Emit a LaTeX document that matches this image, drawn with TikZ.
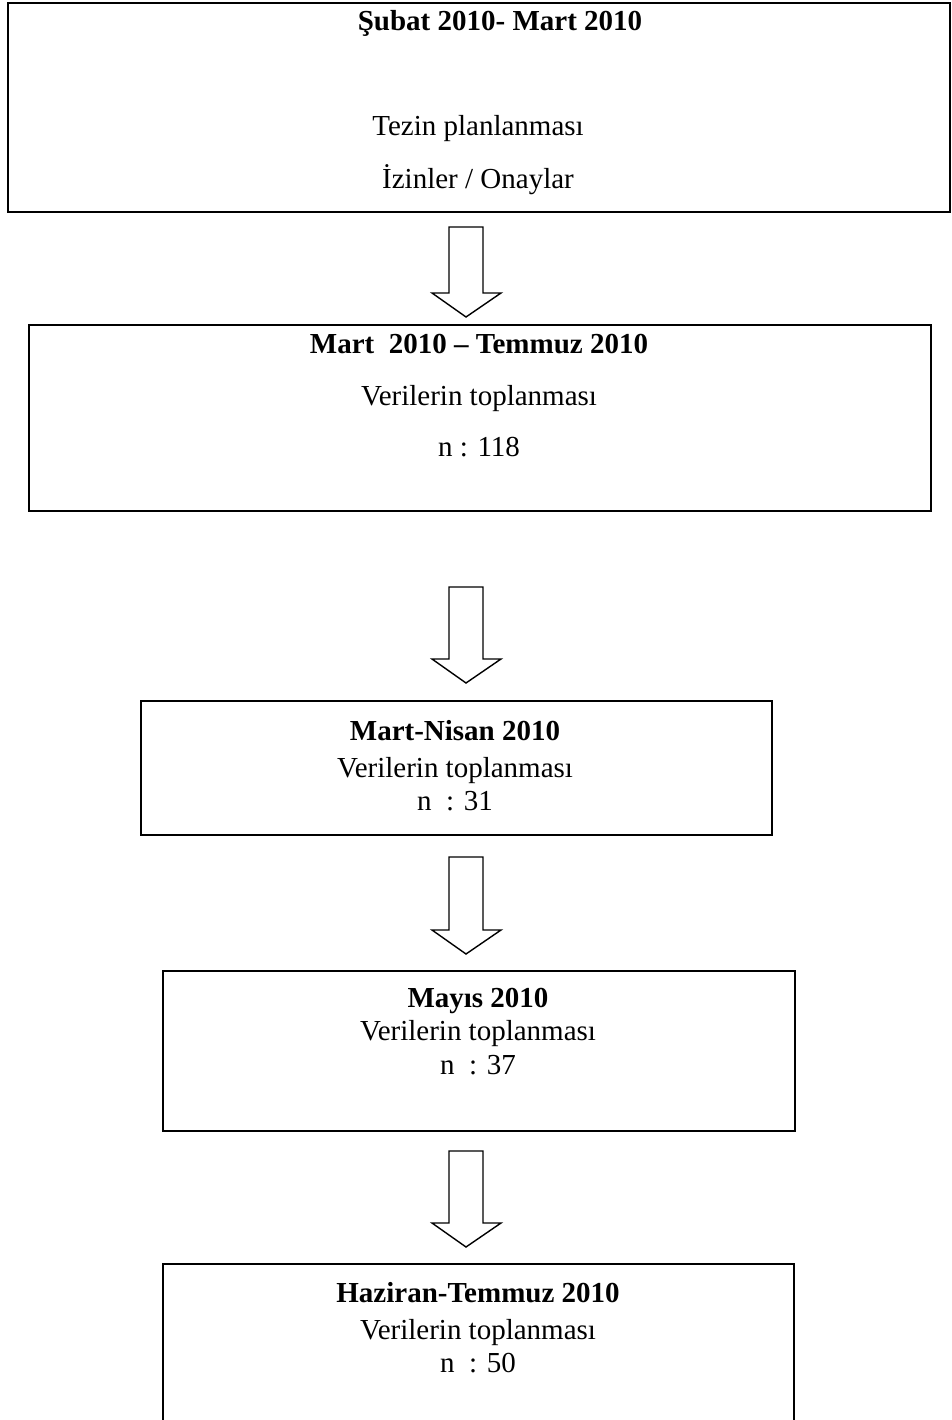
\documentclass[tikz,border=0pt]{standalone}
\usepackage{fontspec}
\setmainfont{Liberation Serif}
\begin{document}
\begin{tikzpicture}[x=1pt,y=-1pt,
  box/.style={draw, line width=2pt, rectangle, inner sep=0pt, anchor=north west},
  txt/.style={anchor=base, inner sep=0pt, font=\fontsize{29}{34}\selectfont},
  btxt/.style={anchor=base, inner sep=0pt, font=\fontsize{29}{34}\selectfont\bfseries},
  blockarrow/.style={draw, line width=1.4pt, line join=miter}]
\useasboundingbox (0,0) rectangle (951,1420);
% boxes
\node[box, minimum width=942pt, minimum height=209pt] (b1) at (7,2) {};
\node[box, minimum width=902pt, minimum height=186pt] (b2) at (28,324) {};
\node[box, minimum width=631pt, minimum height=134pt] (b3) at (140,700) {};
\node[box, minimum width=632pt, minimum height=160pt] (b4) at (162,970) {};
\draw[line width=2pt] (163,1422) coordinate (b5bl) -- (163,1264) coordinate (b5tl) -- (794,1264) coordinate (b5tr) -- (794,1422) coordinate (b5br);
% texts
\node[btxt] (t1a) at (500,31) {Şubat 2010- Mart 2010};
\node[txt] (t1b) at (478,136) {Tezin planlanması};
\node[txt] (t1c) at (478,189) {İzinler / Onaylar};
\node[btxt] (t2a) at (479,353) {Mart\ \ 2010 – Temmuz 2010};
\node[txt] (t2b) at (479,405) {Verilerin toplanması};
\node[txt] (t2c) at (479,456) {n : 118};
\node[btxt] (t3a) at (455,740) {Mart-Nisan 2010};
\node[txt] (t3b) at (455,777) {Verilerin toplanması};
\node[txt] (t3c) at (455,810) {n\ \ : 31};
\node[btxt] (t4a) at (478,1007) {Mayıs 2010};
\node[txt] (t4b) at (478,1040) {Verilerin toplanması};
\node[txt] (t4c) at (478,1074) {n\ \ : 37};
\node[btxt] (t5a) at (478,1302) {Haziran-Temmuz 2010};
\node[txt] (t5b) at (478,1339) {Verilerin toplanması};
\node[txt] (t5c) at (478,1372) {n\ \ : 50};
% block arrows
\foreach \top/\head/\tip in {227/293/317, 587/659/683, 857/930/954, 1151/1223/1247}{
  \draw[blockarrow] (449,\top) -- (483,\top) -- (483,\head) -- (501,\head) -- (466,\tip) -- (432,\head) -- (449,\head) -- cycle;
}
\end{tikzpicture}
\end{document}
